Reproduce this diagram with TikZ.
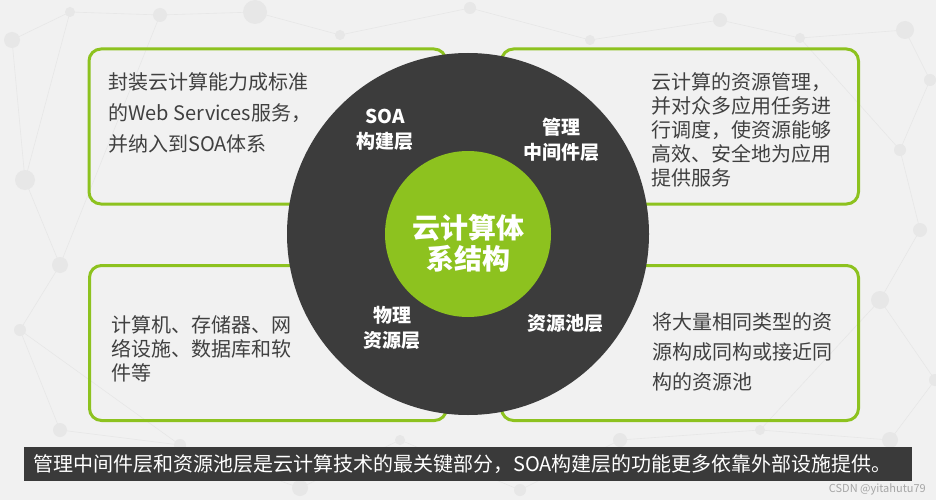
\documentclass[tikz,border=0pt]{standalone}
\usepackage{fontspec}
\setmainfont{Noto Sans CJK SC}

\definecolor{bggray}{HTML}{F1F1F1}
\definecolor{netgray}{HTML}{E7E7E7}
\definecolor{leafgreen}{HTML}{8DC21F}
\definecolor{ringdark}{HTML}{3C3C3C}
\definecolor{bardark}{HTML}{3A3A3A}
\definecolor{textgray}{HTML}{404040}

\tikzset{
  panel/.style={draw=leafgreen, line width=3pt, rounded corners=12pt,
    minimum width=357pt, minimum height=155pt, inner sep=0pt},
  desc/.style={anchor=north west, align=left, text=textgray, inner sep=0pt,
    font=\fontsize{20}{24}\selectfont},
  layer/.style={align=center, text=white, inner sep=0pt,
    font=\bfseries\fontsize{19}{25}\selectfont},
  netline/.style={draw=netgray, line width=0.6pt},
  netdot/.style={fill=netgray}
}

\begin{document}
\begin{tikzpicture}[x=1pt, y=-1pt]
  \useasboundingbox (0,0) rectangle (936,500);
  \fill[bggray] (0,0) rectangle (936,500);

  % faint network in the background
  \foreach \ax/\ay/\bx/\by in {
      12/40/70/12, 70/12/160/15, 160/15/255/12, 255/12/340/35, 340/35/470/8,
      470/8/590/40, 590/40/720/20, 720/20/800/38, 800/38/905/30, 905/30/930/80,
      12/40/25/180, 25/180/60/265, 60/265/20/330, 20/330/60/430, 60/430/180/445,
      180/445/300/488, 300/488/400/440, 400/440/520/490, 520/490/620/440,
      620/440/760/430, 760/430/890/440, 890/440/935/380, 935/380/880/300,
      880/300/920/230, 920/230/900/150, 900/150/930/80, 70/12/25/180,
      160/15/60/265, 800/38/900/150, 760/430/880/300, 180/445/20/330}
    \draw[netline] (\ax,\ay) -- (\bx,\by);
  \foreach \px/\py/\r in {
      12/40/8, 70/12/5, 160/15/7, 255/12/12, 340/35/5, 470/8/6, 590/40/5,
      720/20/7, 800/38/5, 905/30/9, 930/80/6, 25/180/10, 60/265/8, 20/330/6,
      60/430/7, 180/445/6, 300/488/8, 400/440/5, 520/490/6, 620/440/7,
      760/430/5, 890/440/8, 935/380/6, 880/300/9, 920/230/7, 900/150/6}
    \fill[netdot] (\px,\py) circle (\r);

  % four description panels
  \node[panel] (soabox)  at (267.5,126.5) {};
  \node[panel] (mgrbox)  at (680,126.5) {};
  \node[panel] (physbox) at (268,343) {};
  \node[panel] (poolbox) at (680,343) {};

  \node[desc, font=\fontsize{20}{31}\selectfont] (soatext) at (108,72)
    {封装云计算能力成标准\\的Web Services服务，\\并纳入到SOA体系};
  \node[desc] (mgrtext) at (651,72)
    {云计算的资源管理，\\并对众多应用任务进\\行调度，使资源能够\\高效、安全地为应用\\提供服务};
  \node[desc] (phystext) at (111,315)
    {计算机、存储器、网\\络设施、数据库和软\\件等};
  \node[desc, font=\fontsize{20}{30}\selectfont] (pooltext) at (652,312)
    {将大量相同类型的资\\源构成同构或接近同\\构的资源池};

  % the rings
  \node[circle, fill=ringdark, minimum size=362pt, inner sep=0pt] (ring) at (468,234) {};
  \node[circle, fill=leafgreen, minimum size=166pt, inner sep=0pt] (core) at (468,234) {};

  \node[layer] (soa)  at (385,130) {SOA\\构建层};
  \node[layer] (mgr)  at (561,140) {管理\\中间件层};
  \node[layer] (phys) at (392,328) {物理\\资源层};
  \node[layer] (pool) at (565,323) {资源池层};
  \node[layer, font=\bfseries\fontsize{28}{31}\selectfont] (title) at (468,243)
    {云计算体\\系结构};

  % summary bar
  \node[fill=bardark, anchor=west, text=white, inner xsep=9pt, inner ysep=0pt,
    minimum height=34pt, text width=870pt, align=left,
    font=\fontsize{20}{24}\selectfont] (summary) at (24,464)
    {管理中间件层和资源池层是云计算技术的最关键部分，SOA构建层的功能更多依靠外部设施提供。};

  \node[anchor=east, text=black!35, inner sep=0pt, font=\fontsize{11}{11}\selectfont]
    (mark) at (926,489) {CSDN @yitahutu79};
\end{tikzpicture}
\end{document}
